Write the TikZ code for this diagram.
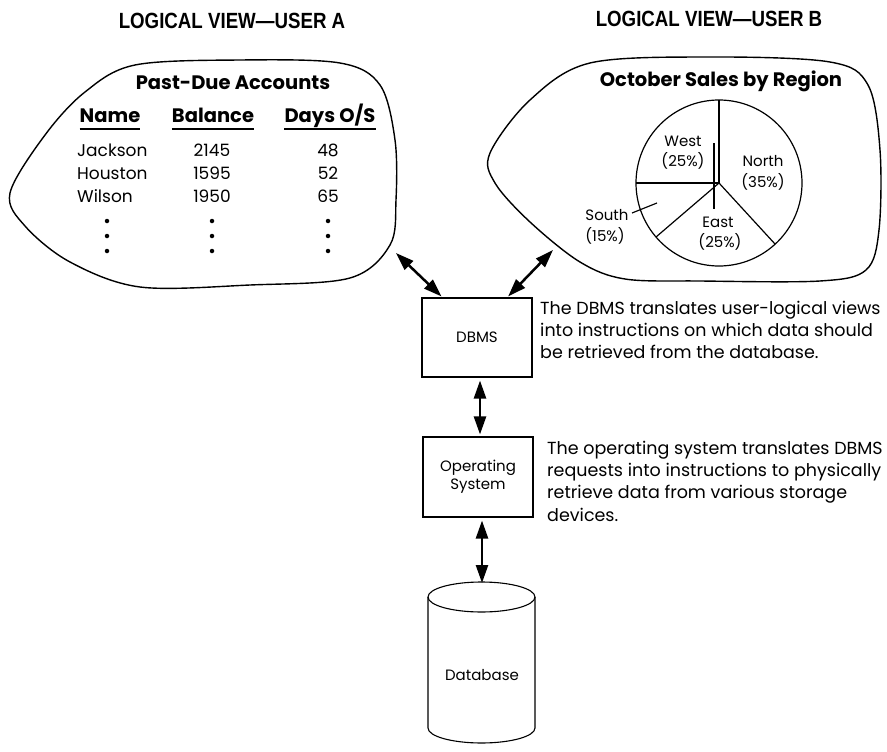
\documentclass[tikz,border=0pt]{standalone}
\usepackage{fontspec}
\setmainfont{Poppins}
\newfontfamily\condfont[FakeStretch=0.85]{Liberation Sans}
\usetikzlibrary{arrows.meta,calc}
\begin{document}
\begin{tikzpicture}[x=1pt,y=-1pt,
  blob/.style={draw, line width=1.4pt},
  box/.style={draw, line width=1.1pt, minimum width=110pt, minimum height=79pt, inner sep=0pt, align=center, font=\fontsize{15}{18}\selectfont},
  arr/.style={line width=2.5pt, {Triangle[length=18pt,width=12pt]}-{Triangle[length=18pt,width=12pt]}},
  ttl/.style={font=\condfont\bfseries\fontsize{22}{26}\selectfont},
  hd/.style={font=\bfseries\fontsize{19.5}{24}\selectfont, anchor=base, inner sep=0pt},
  cell/.style={font=\fontsize{17}{20}\selectfont, anchor=base, inner sep=0pt},
  ul/.style={line width=1.1pt},
  dot/.style={circle, fill, inner sep=0pt, minimum size=4.5pt},
  pl/.style={font=\fontsize{15}{18}\selectfont, inner sep=0pt},
  para/.style={font=\fontsize{17.5}{22.3}\selectfont, align=left, anchor=west, inner sep=0pt},
  pie/.style={line width=1.2pt}
]
\useasboundingbox (0,0) rectangle (887,752);

% titles
\node[ttl] (tA) at (232,21) {LOGICAL VIEW—USER A};
\node[ttl] (tB) at (709,19) {LOGICAL VIEW—USER B};

% left blob
\draw[blob] plot[smooth cycle, tension=0.55] coordinates {
  (10,193) (45,135) (85,92) (135,65) (240,60) (340,63) (380,85) (395,140)
  (396,200) (390,245) (350,278) (250,285) (140,287) (70,262) (25,226)};
% right blob
\draw[blob] plot[smooth cycle, tension=0.55] coordinates {
  (490,153) (530,100) (590,63) (710,57) (830,62) (868,85) (880,150)
  (879,230) (866,270) (820,281) (700,281) (625,279) (580,262) (530,222) (495,183)};

% table
\node[hd] (pda) at (233,89) {Past-Due Accounts};
\node[hd] (hName) at (110,122) {Name};
\node[hd] (hBal) at (213,122) {Balance};
\node[hd] (hDays) at (330,122) {Days O/S};
\draw[ul] (hName.west |- 0,129) -- (hName.east |- 0,129);
\draw[ul] (hBal.west |- 0,129) -- (hBal.east |- 0,129);
\draw[ul] (hDays.west |- 0,129) -- (hDays.east |- 0,129);

\node[cell, anchor=base west] (n1) at (77,156) {Jackson};
\node[cell, anchor=base west] (n2) at (77,179) {Houston};
\node[cell, anchor=base west] (n3) at (77,202) {Wilson};
\node[cell] (b1) at (212,156) {2145};
\node[cell] (b2) at (212,179) {1595};
\node[cell] (b3) at (212,202) {1950};
\node[cell] (d1) at (328,156) {48};
\node[cell] (d2) at (328,179) {52};
\node[cell] (d3) at (328,202) {65};
\foreach \x in {107,212,328} {
  \foreach \y in {221,236,251} {
    \node[dot] at (\x,\y) {};
  }
}

% pie
\node[hd] (osr) at (721,87) {October Sales by Region};
\coordinate (pc) at (719,183);
\draw[pie] (pc) circle[radius=83];
\draw[pie] (pc) -- (719,100);
\draw[pie] (pc) -- (636,183);
\draw[pie] (pc) -- (775,244);
\draw[pie] (pc) -- (656,237);
\draw[pie] (714,143) -- (714,209);
\node[pl] (w1) at (683,141) {West};
\node[pl] (w2) at (683,161) {(25\%)};
\node[pl] (no1) at (763,161) {North};
\node[pl] (no2) at (763,182) {(35\%)};
\node[pl] (e1) at (718,222) {East};
\node[pl] (e2) at (720,242) {(25\%)};
\node[pl] (s1) at (607,215) {South};
\node[pl] (s2) at (605,236) {(15\%)};
\draw[pie] (632,213) -- (657,203);

% boxes
\node[box] (dbms) at (477,337.5) {DBMS};
\node[box, minimum height=80pt] (os) at (478,477) {Operating\\System};

% database cylinder
\node[pl] (db) at (482,675) {Database};
\draw[line width=1.1pt] (428,597) -- (428,728) arc[start angle=180, end angle=0, x radius=53.5, y radius=15] -- (535,597);
\draw[line width=1.1pt] (481.5,597) ellipse[x radius=53.5, y radius=15];
\coordinate (dbtop) at (482,583);

% arrows
\coordinate (aA) at (396,253);
\coordinate (aB) at (553,250);
\draw[arr] (aA) -- ($(dbms.north west)!0.18!(dbms.north east)+(0,-1)$);
\draw[arr] (aB) -- ($(dbms.north west)!0.78!(dbms.north east)+(0,-1)$);
\draw[arr] ($(dbms.south)+(3,3)$) -- ($(os.north)+(2,-2)$);
\draw[arr] ($(os.south)+(4,3)$) -- (dbtop);

% paragraphs
\node[para] (p1) at (540,330) {The DBMS translates user-logical views\\into instructions on which data should\\be retrieved from the database.};
\node[para] (p2) at (547,481) {The operating system translates DBMS\\requests into instructions to physically\\retrieve data from various storage\\devices.};
\end{tikzpicture}
\end{document}
